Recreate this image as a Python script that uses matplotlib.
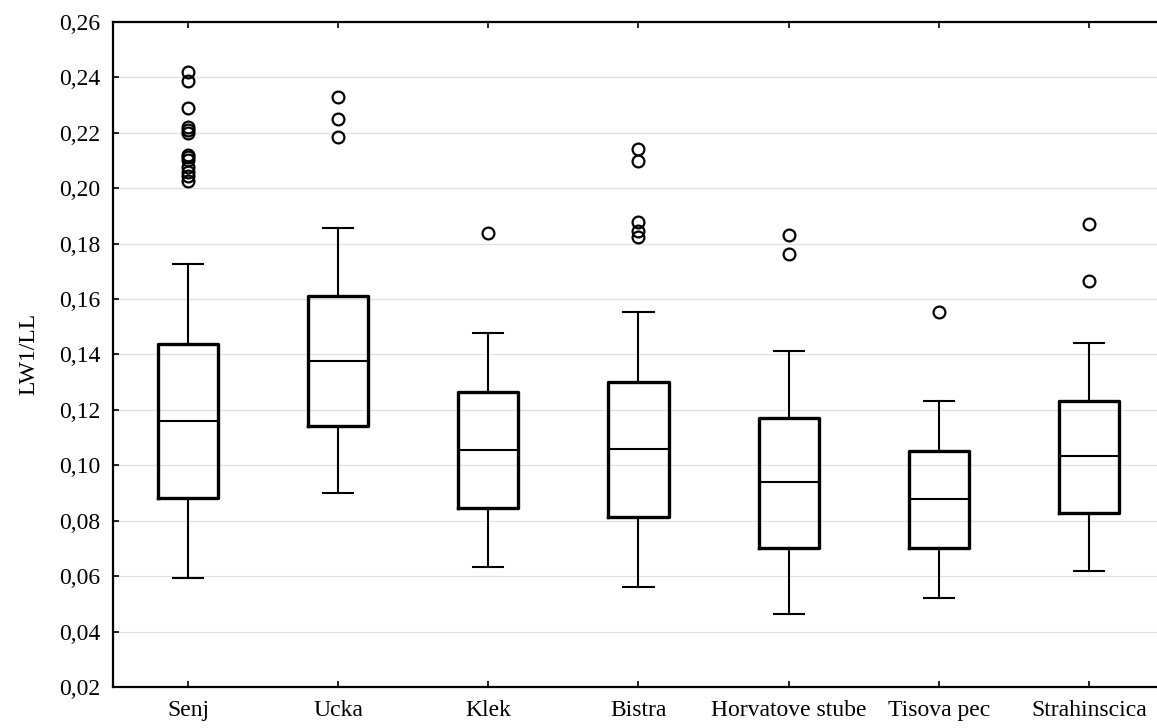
import matplotlib.pyplot as plt
from matplotlib.ticker import FuncFormatter, MultipleLocator

sites = ['Senj', 'Ucka', 'Klek', 'Bistra', 'Horvatove stube', 'Tisova pec', 'Strahinscica']

# box statistics
whis_lo = [0.0595, 0.0899, 0.0634, 0.0562, 0.0462, 0.0520, 0.0620]
q1 = [0.0883, 0.1141, 0.0847, 0.0812, 0.0702, 0.0702, 0.0828]
med = [0.1161, 0.1375, 0.1055, 0.1058, 0.0938, 0.0878, 0.1032]
q3 = [0.1437, 0.1610, 0.1265, 0.1300, 0.1172, 0.1052, 0.1232]
whis_hi = [0.1728, 0.1855, 0.1479, 0.1553, 0.1412, 0.1232, 0.1442]

outliers = [
    [0.2419, 0.2386, 0.2290, 0.2219, 0.2209, 0.2199, 0.2119, 0.2111,
     0.2101, 0.2077, 0.2059, 0.2043, 0.2025],
    [0.2329, 0.2248, 0.2183],
    [0.1837],
    [0.2140, 0.2098, 0.1879, 0.1846, 0.1822],
    [0.1830, 0.1764],
    [0.1552],
    [0.1870, 0.1664],
]

plt.rcParams['font.family'] = ['Liberation Serif', 'DejaVu Serif']

stats = []
for i in range(len(sites)):
    stats.append({'label': sites[i], 'whislo': whis_lo[i], 'q1': q1[i], 'med': med[i],
                  'q3': q3[i], 'whishi': whis_hi[i], 'fliers': outliers[i]})

fig = plt.figure(figsize=(11.57, 7.28), dpi=100)
ax = fig.add_axes([0.0977, 0.0563, 0.9083, 0.9137])

ax.bxp(stats, widths=0.4, showfliers=True, patch_artist=False,
       boxprops=dict(color='black', linewidth=2.4),
       medianprops=dict(color='black', linewidth=1.5),
       whiskerprops=dict(color='black', linewidth=1.5),
       capprops=dict(color='black', linewidth=1.5),
       flierprops=dict(marker='o', markerfacecolor='none', markeredgecolor='black',
                       markersize=8.5, markeredgewidth=1.6))

ax.set_xlim(0.5, 7.5)
ax.set_ylim(0.02, 0.26)
ax.yaxis.set_major_locator(MultipleLocator(0.02))
ax.yaxis.set_major_formatter(FuncFormatter(lambda v, p: f'{v:.2f}'.replace('.', ',')))
ax.grid(axis='y', color='#e0e0e0', linewidth=0.9)
ax.set_axisbelow(True)

for s in ax.spines.values():
    s.set_linewidth(1.6)
ax.spines['right'].set_visible(False)

ax.tick_params(axis='y', direction='in', length=4, width=1.2, labelsize=17, pad=9)
ax.tick_params(axis='x', direction='in', length=4, width=1.2, top=True, labelsize=17, pad=9)

ax.set_ylabel('LW1/LL', fontsize=17, labelpad=14)

fig.savefig('out.png', dpi=100)
